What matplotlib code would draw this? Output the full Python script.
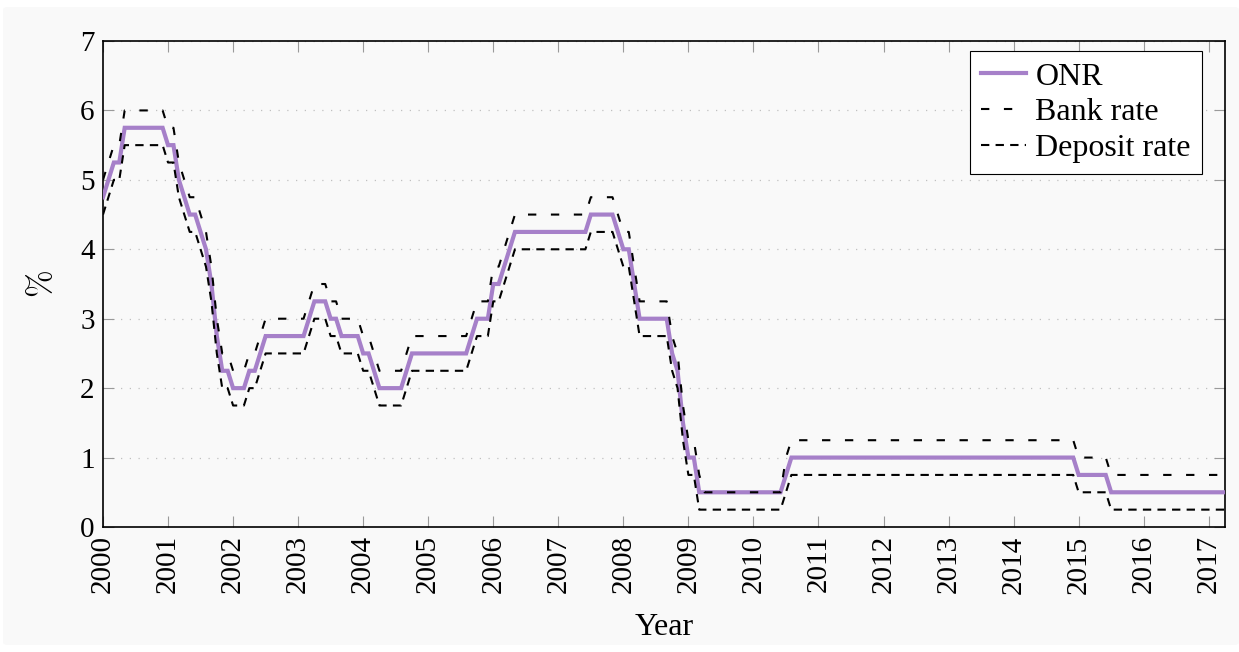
import numpy as np
import matplotlib
matplotlib.use("Agg")
import matplotlib.pyplot as plt
from matplotlib.patches import FancyBboxPatch

# monthly values, Jan 2000 .. Apr 2017
onr = (
    [4.75, 5.00, 5.25, 5.25, 5.75, 5.75, 5.75, 5.75, 5.75, 5.75, 5.75, 5.75]   # 2000
    + [5.50, 5.50, 5.00, 4.75, 4.50, 4.50, 4.25, 4.00, 3.50, 2.75, 2.25, 2.25]  # 2001
    + [2.00, 2.00, 2.00, 2.25, 2.25, 2.50, 2.75, 2.75, 2.75, 2.75, 2.75, 2.75]  # 2002
    + [2.75, 2.75, 3.00, 3.25, 3.25, 3.25, 3.00, 3.00, 2.75, 2.75, 2.75, 2.75]  # 2003
    + [2.50, 2.50, 2.25, 2.00, 2.00, 2.00, 2.00, 2.00, 2.25, 2.50, 2.50, 2.50]  # 2004
    + [2.50, 2.50, 2.50, 2.50, 2.50, 2.50, 2.50, 2.50, 2.75, 3.00, 3.00, 3.00]  # 2005
    + [3.50, 3.50, 3.75, 4.00, 4.25, 4.25, 4.25, 4.25, 4.25, 4.25, 4.25, 4.25]  # 2006
    + [4.25, 4.25, 4.25, 4.25, 4.25, 4.25, 4.50, 4.50, 4.50, 4.50, 4.50, 4.25]  # 2007
    + [4.00, 4.00, 3.50, 3.00, 3.00, 3.00, 3.00, 3.00, 3.00, 2.50, 2.25, 1.50]  # 2008
    + [1.00, 1.00, 0.50, 0.50, 0.50, 0.50, 0.50, 0.50, 0.50, 0.50, 0.50, 0.50]  # 2009
    + [0.50, 0.50, 0.50, 0.50, 0.50, 0.50, 0.75, 1.00, 1.00, 1.00, 1.00, 1.00]  # 2010
    + [1.00] * 12 + [1.00] * 12 + [1.00] * 12 + [1.00] * 12                     # 2011-2014
    + [0.75, 0.75, 0.75, 0.75, 0.75, 0.75, 0.50, 0.50, 0.50, 0.50, 0.50, 0.50]  # 2015
    + [0.50] * 12                                                               # 2016
    + [0.50, 0.50, 0.50, 0.50]                                                  # 2017
)
bank_rate = (
    [5.00, 5.25, 5.50, 5.50, 6.00, 6.00, 6.00, 6.00, 6.00, 6.00, 6.00, 6.00]
    + [5.75, 5.75, 5.25, 5.00, 4.75, 4.75, 4.50, 4.25, 3.75, 3.00, 2.50, 2.50]
    + [2.25, 2.25, 2.25, 2.50, 2.50, 2.75, 3.00, 3.00, 3.00, 3.00, 3.00, 3.00]
    + [3.00, 3.00, 3.25, 3.50, 3.50, 3.50, 3.25, 3.25, 3.00, 3.00, 3.00, 3.00]
    + [2.75, 2.75, 2.50, 2.25, 2.25, 2.25, 2.25, 2.25, 2.50, 2.75, 2.75, 2.75]
    + [2.75, 2.75, 2.75, 2.75, 2.75, 2.75, 2.75, 2.75, 3.00, 3.25, 3.25, 3.25]
    + [3.75, 3.75, 4.00, 4.25, 4.50, 4.50, 4.50, 4.50, 4.50, 4.50, 4.50, 4.50]
    + [4.50, 4.50, 4.50, 4.50, 4.50, 4.50, 4.75, 4.75, 4.75, 4.75, 4.75, 4.50]
    + [4.25, 4.25, 3.75, 3.25, 3.25, 3.25, 3.25, 3.25, 3.25, 2.75, 2.50, 1.75]
    + [1.25, 1.25, 0.75, 0.50, 0.50, 0.50, 0.50, 0.50, 0.50, 0.50, 0.50, 0.50]
    + [0.50, 0.50, 0.50, 0.50, 0.50, 0.50, 1.00, 1.25, 1.25, 1.25, 1.25, 1.25]
    + [1.25] * 12 + [1.25] * 12 + [1.25] * 12 + [1.25] * 12
    + [1.00, 1.00, 1.00, 1.00, 1.00, 1.00, 0.75, 0.75, 0.75, 0.75, 0.75, 0.75]
    + [0.75] * 12
    + [0.75, 0.75, 0.75, 0.75]
)
deposit_rate = (
    [4.50, 4.75, 5.00, 5.00, 5.50, 5.50, 5.50, 5.50, 5.50, 5.50, 5.50, 5.50]
    + [5.25, 5.25, 4.75, 4.50, 4.25, 4.25, 4.00, 3.75, 3.25, 2.50, 2.00, 2.00]
    + [1.75, 1.75, 1.75, 2.00, 2.00, 2.25, 2.50, 2.50, 2.50, 2.50, 2.50, 2.50]
    + [2.50, 2.50, 2.75, 3.00, 3.00, 3.00, 2.75, 2.75, 2.50, 2.50, 2.50, 2.50]
    + [2.25, 2.25, 2.00, 1.75, 1.75, 1.75, 1.75, 1.75, 2.00, 2.25, 2.25, 2.25]
    + [2.25, 2.25, 2.25, 2.25, 2.25, 2.25, 2.25, 2.25, 2.50, 2.75, 2.75, 2.75]
    + [3.25, 3.25, 3.50, 3.75, 4.00, 4.00, 4.00, 4.00, 4.00, 4.00, 4.00, 4.00]
    + [4.00, 4.00, 4.00, 4.00, 4.00, 4.00, 4.25, 4.25, 4.25, 4.25, 4.25, 4.00]
    + [3.75, 3.75, 3.25, 2.75, 2.75, 2.75, 2.75, 2.75, 2.75, 2.25, 2.00, 1.25]
    + [0.75, 0.75, 0.25, 0.25, 0.25, 0.25, 0.25, 0.25, 0.25, 0.25, 0.25, 0.25]
    + [0.25, 0.25, 0.25, 0.25, 0.25, 0.25, 0.50, 0.75, 0.75, 0.75, 0.75, 0.75]
    + [0.75] * 12 + [0.75] * 12 + [0.75] * 12 + [0.75] * 12
    + [0.50, 0.50, 0.50, 0.50, 0.50, 0.50, 0.25, 0.25, 0.25, 0.25, 0.25, 0.25]
    + [0.25] * 12
    + [0.25, 0.25, 0.25, 0.25]
)
years = list(range(2000, 2018))

plt.rcParams["font.family"] = ["Liberation Serif", "DejaVu Serif"]
plt.rcParams["mathtext.fontset"] = "cm"

bg = "#f9f9f9"
fig = plt.figure(figsize=(12.39, 6.52), dpi=100)
fig.patch.set_facecolor("white")
fig.patches.append(FancyBboxPatch((3 / 1239, 7 / 652), 1 - 3 / 1239, 638 / 652,
                                  boxstyle="round,pad=0,rounding_size=0.004",
                                  transform=fig.transFigure, facecolor=bg,
                                  edgecolor="none", zorder=-10))
ax = fig.add_axes([103 / 1239, 1 - 527 / 652, 1122 / 1239, 486 / 652])
ax.set_facecolor(bg)

x = 2000 + np.arange(len(onr)) / 12.0
ax.plot(x, onr, color="#a680c9", lw=3.0, label="ONR", zorder=3,
        solid_joinstyle="miter")
ax.plot(x, bank_rate, color="black", lw=1.5, dashes=(4, 7), label="Bank rate", zorder=4)
ax.plot(x, deposit_rate, color="black", lw=1.5, dashes=(4, 3), label="Deposit rate", zorder=4)

ax.set_xlim(2000, 2017.25)
ax.set_ylim(0, 7)
ax.set_xticks(years)
ax.set_xticklabels([str(y) for y in years], rotation=90)
ax.set_yticks(range(0, 8))
ax.grid(axis="y", color="#c0c0c0", lw=0.9, linestyle=(0, (1, 6)))
ax.set_axisbelow(True)
ax.tick_params(direction="in", length=8, width=0.8, color="#9a9a9a",
               top=True, right=True, labelsize=21, pad=6)
for s in ax.spines.values():
    s.set_linewidth(1.2)
    s.set_color("black")
ax.set_xlabel("Year", fontsize=23, labelpad=14)
ax.set_ylabel(r"$\%$", fontsize=24, labelpad=16)

leg = ax.legend(loc="upper right", fontsize=23, frameon=True, fancybox=False,
                edgecolor="black", framealpha=1, facecolor="white",
                handlelength=1.4, handletextpad=0.3, labelspacing=0.2,
                borderaxespad=0, borderpad=0.35,
                bbox_to_anchor=(1 - 23 / 1122, 1 - 10 / 486))
leg.get_frame().set_linewidth(0.8)

fig.savefig("out.png", dpi=100)
